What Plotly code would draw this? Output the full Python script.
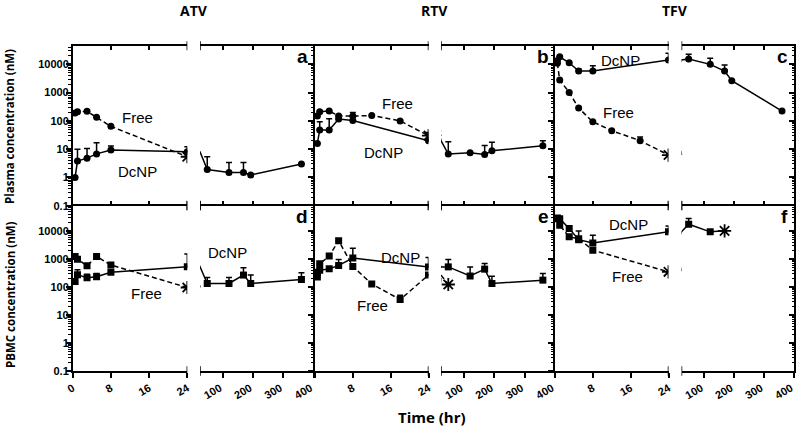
import plotly.graph_objects as go

# sampling times (hr)
t_std = [0.5, 1, 3, 5, 8, 24, 48, 120, 168, 192, 360]
t_free_short = [0.5, 1, 3, 5, 8, 24]
t_free_long = [0.5, 1, 3, 5, 8, 12, 18, 24]
t_free_rtv_pbmc = [0.5, 1, 3, 5, 8, 12, 18, 24, 48]
t_dcnp_tfv_pbmc = [0.5, 1, 3, 5, 8, 24, 48, 120, 168]

# plasma concentration (nM)
atv_plasma_dcnp = [1.0, 3.8, 4.8, 6.8, 9.3, 8.1, 1.9, 1.5, 1.5, 1.22, 2.98]
atv_plasma_dcnp_err = [0, 6.2, 5.7, 10, 3.7, 4, 3.5, 1.9, 1.9, 0, 0]
atv_plasma_free = [190, 210, 218, 134, 64, 5.4]
atv_plasma_free_err = [0, 0, 0, 0, 0, 0]

rtv_plasma_dcnp = [16, 48, 48, 117, 103, 20, 6.7, 7.5, 6.5, 8.8, 13.3]
rtv_plasma_dcnp_err = [0, 45, 70, 45, 97, 19, 11.7, 0, 6.9, 8.7, 6.7]
rtv_plasma_free = [150, 210, 225, 148, 148, 155, 100, 30]
rtv_plasma_free_err = [0, 0, 0, 0, 0, 0, 0, 0]

tfv_plasma_dcnp = [13500, 18500, 11400, 5800, 5800, 14200, 15400, 10000, 5800, 2640, 223]
tfv_plasma_dcnp_err = [0, 0, 0, 1000, 3100, 10300, 7500, 6300, 3700, 0, 0]
tfv_plasma_free = [11000, 2790, 1020, 285, 93, 45, 20, 6.2]
tfv_plasma_free_err = [0, 0, 0, 0, 0, 0, 7, 0]

# PBMC concentration (nM)
atv_pbmc_dcnp = [160, 280, 215, 235, 340, 540, 135, 135, 270, 135, 188]
atv_pbmc_dcnp_err = [0, 140, 75, 75, 0, 1000, 86, 86, 220, 135, 140]
atv_pbmc_free = [1250, 1000, 580, 1250, 620, 97]
atv_pbmc_free_err = [0, 0, 0, 0, 100, 0]

rtv_pbmc_dcnp = [340, 400, 450, 600, 1100, 530, 530, 250, 440, 135, 178]
rtv_pbmc_dcnp_err = [0, 0, 0, 370, 1360, 620, 440, 280, 260, 110, 130]
rtv_pbmc_free = [230, 680, 1300, 4600, 550, 130, 36, 270, 124]
rtv_pbmc_free_err = [0, 0, 0, 0, 0, 0, 15, 0, 0]

tfv_pbmc_dcnp = [30000, 28000, 12500, 5000, 3800, 9500, 17800, 9500, 10300]
tfv_pbmc_dcnp_err = [0, 0, 0, 5200, 3400, 6000, 10500, 0, 0]
tfv_pbmc_free = [28000, 16400, 6300, 5400, 2100, 353]
tfv_pbmc_free_err = [0, 0, 0, 0, 0, 0]

drugs = ["ATV", "RTV", "TFV"]
panel_letters = ["a", "b", "c", "d", "e", "f"]

# (dcnp t, v, err, last-is-asterisk, free t, v, err, last-is-asterisk)
panels = [
    (t_std, atv_plasma_dcnp, atv_plasma_dcnp_err, False, t_free_short, atv_plasma_free, atv_plasma_free_err, True),
    (t_std, rtv_plasma_dcnp, rtv_plasma_dcnp_err, False, t_free_long, rtv_plasma_free, rtv_plasma_free_err, True),
    (t_std, tfv_plasma_dcnp, tfv_plasma_dcnp_err, False, t_free_long, tfv_plasma_free, tfv_plasma_free_err, True),
    (t_std, atv_pbmc_dcnp, atv_pbmc_dcnp_err, False, t_free_short, atv_pbmc_free, atv_pbmc_free_err, True),
    (t_std, rtv_pbmc_dcnp, rtv_pbmc_dcnp_err, False, t_free_rtv_pbmc, rtv_pbmc_free, rtv_pbmc_free_err, True),
    (t_dcnp_tfv_pbmc, tfv_pbmc_dcnp, tfv_pbmc_dcnp_err, True, t_free_short, tfv_pbmc_free, tfv_pbmc_free_err, True),
]

# label positions (px) for Free / DcNP text in each panel
free_pos = [(137, 117), (397, 104), (618, 113), (146, 293), (372, 305), (627, 276)]
dcnp_pos = [(137, 171), (383, 152), (620, 60), (227, 253), (400, 257), (628, 224)]

W, H = 800, 430
XL = [(72.7, 187.3), (315, 428.5), (555, 668.5)]
XR = [(200, 313.5), (441, 555), (681.5, 794)]
ROWS = [(45.7, 205.7), (205.5, 371)]
YRANGE = [[-1, 4.66], [-1, 4.92]]

FONT = "Arial, Liberation Sans, sans-serif"
decades = [0.1, 1, 10, 100, 1000, 10000]
decade_text = ["0.1", "1", "10", "100", "1000", "10000"]
minor_vals = [m * 10.0 ** e for e in range(-1, 5) for m in range(2, 10)]


def sfx(n):
    return "" if n == 1 else str(n)


fig = go.Figure()
layout = {}
shapes = []
annotations = []


def note(text, x, y, size, family=FONT, bold=False, angle=0, xanchor="center"):
    annotations.append(dict(
        text=text, x=x / W, y=1 - y / H, xref="paper", yref="paper",
        showarrow=False, xanchor=xanchor, yanchor="middle", textangle=angle,
        font=dict(family=family, size=size, color="black",
                  weight="bold" if bold else "normal"),
    ))


def add_series(p, t, v, err, star_last, symbol, dash):
    col = p % 3
    xl, xr, yy = 2 * p + 1, 2 * p + 2, p + 1
    # TFV panels draw their late segment against the right-hand border axis
    yr = (7 if p == 2 else 8) if col == 2 else yy
    n_mark = len(t) - 1 if star_last else len(t)
    for xa, ya, left in ((xl, yy, True), (xr, yr, False)):
        fig.add_trace(go.Scatter(
            x=t, y=v, mode="lines",
            line=dict(color="black", width=1.5, dash=dash),
            xaxis="x" + sfx(xa), yaxis="y" + sfx(ya),
            showlegend=False, hoverinfo="skip",
        ))
        idx = [i for i in range(n_mark) if (t[i] <= 24) == left]
        if idx:
            fig.add_trace(go.Scatter(
                x=[t[i] for i in idx], y=[v[i] for i in idx], mode="markers",
                marker=dict(symbol=symbol, size=7, color="black"),
                error_y=dict(type="data", symmetric=False,
                             array=[err[i] for i in idx], arrayminus=[0] * len(idx),
                             color="black", thickness=1.5, width=3),
                xaxis="x" + sfx(xa), yaxis="y" + sfx(ya),
                showlegend=False,
            ))
        if star_last and (t[-1] <= 24) == left:
            fig.add_trace(go.Scatter(
                x=[t[-1]], y=[v[-1]], mode="markers",
                marker=dict(symbol="asterisk-open", size=11, color="black",
                            line=dict(color="black", width=1.8)),
                xaxis="x" + sfx(xa), yaxis="y" + sfx(ya),
                showlegend=False,
            ))


for p in range(6):
    row, col = divmod(p, 3)
    xl, xr, yy = 2 * p + 1, 2 * p + 2, p + 1
    top, bot = ROWS[row]
    ydom = [1 - bot / H, 1 - top / H]
    bottom = row == 1

    xcommon = dict(
        showline=True, linecolor="black", linewidth=1.5,
        showgrid=False, zeroline=False, automargin=False,
        ticks="outside" if bottom else "inside", ticklen=5, tickwidth=1.5, tickcolor="black",
        mirror=True if bottom else "ticks",
        showticklabels=bottom, tickangle=-30,
        tickfont=dict(family=FONT, size=11, color="black", weight="bold"),
        anchor="y" + sfx(yy),
    )
    left_text = ["0", "8", "16", "24"] if col == 0 else ["", "8", "16", "24"]
    layout["xaxis" + sfx(xl)] = dict(xcommon, domain=[XL[col][0] / W, XL[col][1] / W],
                                     range=[0, 24], tickvals=[0, 8, 16, 24], ticktext=left_text)
    layout["xaxis" + sfx(xr)] = dict(xcommon, domain=[XR[col][0] / W, XR[col][1] / W],
                                     range=[24, 400], tickvals=[100, 200, 300, 400],
                                     ticktext=["100", "200", "300", "400"], ticklabelshift=-3)

    ycommon = dict(
        type="log", range=YRANGE[row], domain=ydom, automargin=False,
        showline=True, linecolor="black", linewidth=1.5, showgrid=False, zeroline=False,
        ticklen=5, tickwidth=1.5, tickcolor="black", tickvals=decades,
        tickfont=dict(family=FONT, size=11, color="black", weight="bold"),
    )
    layout["yaxis" + sfx(yy)] = dict(
        ycommon, anchor="x" + sfx(xl), ticks="outside",
        ticktext=decade_text, showticklabels=col == 0, ticklabelstandoff=-5,
        minor=dict(tickmode="array", tickvals=minor_vals, ticks="outside",
                   ticklen=2.5, tickwidth=1, tickcolor="black", showgrid=False),
    )
    if col == 2:
        layout["yaxis" + str(7 + row)] = dict(
            ycommon, anchor="x" + sfx(xr), side="right", ticks="inside",
            showticklabels=False,
            minor=dict(tickmode="array", tickvals=minor_vals, ticks="inside",
                       ticklen=2.5, tickwidth=1, tickcolor="black", showgrid=False),
        )

    # break marks at the segment ends
    for xa in (xl, xr):
        for y0, y1 in ((-0.028, 0.028), (0.972, 1.028)):
            shapes.append(dict(type="line", xref="x" + sfx(xa), yref="y" + sfx(yy) + " domain",
                               x0=24, x1=24, y0=y0, y1=y1,
                               line=dict(color="black", width=1.5)))

    dt, dv, de, ds, ft, fv, fe, fs = panels[p]
    symbol = "circle" if row == 0 else "square"
    add_series(p, dt, dv, de, ds, symbol, "solid")
    add_series(p, ft, fv, fe, fs, symbol, "5px,3px")

    note("Free", *free_pos[p], 15)
    note("DcNP", *dcnp_pos[p], 15)
    note(panel_letters[p], XR[col][1] - 4, top + 11, 19, bold=True, xanchor="right")

for col, name in enumerate(drugs):
    note(name, (XL[col][1] + XR[col][0]) / 2, 11, 14, family="Open Sans", bold=True)

note("Plasma concentration (nM)", 10, 127, 11.5, family="Open Sans", bold=True, angle=-90)
note("PBMC concentration (nM)", 10, 295, 11.5, family="Open Sans", bold=True, angle=-90)
note("Time (hr)", 432, 417, 15, family="Open Sans", bold=True)

fig.update_layout(
    width=W, height=H, autosize=False,
    margin=dict(l=0, r=0, t=0, b=0),
    paper_bgcolor="white", plot_bgcolor="white",
    showlegend=False,
    shapes=shapes, annotations=annotations,
    **layout,
)

# drop the browser's default body margin so the figure fills the window
fig.write_html("out.html", config={"displayModeBar": False},
               post_script="document.body.style.margin = '0px';")
